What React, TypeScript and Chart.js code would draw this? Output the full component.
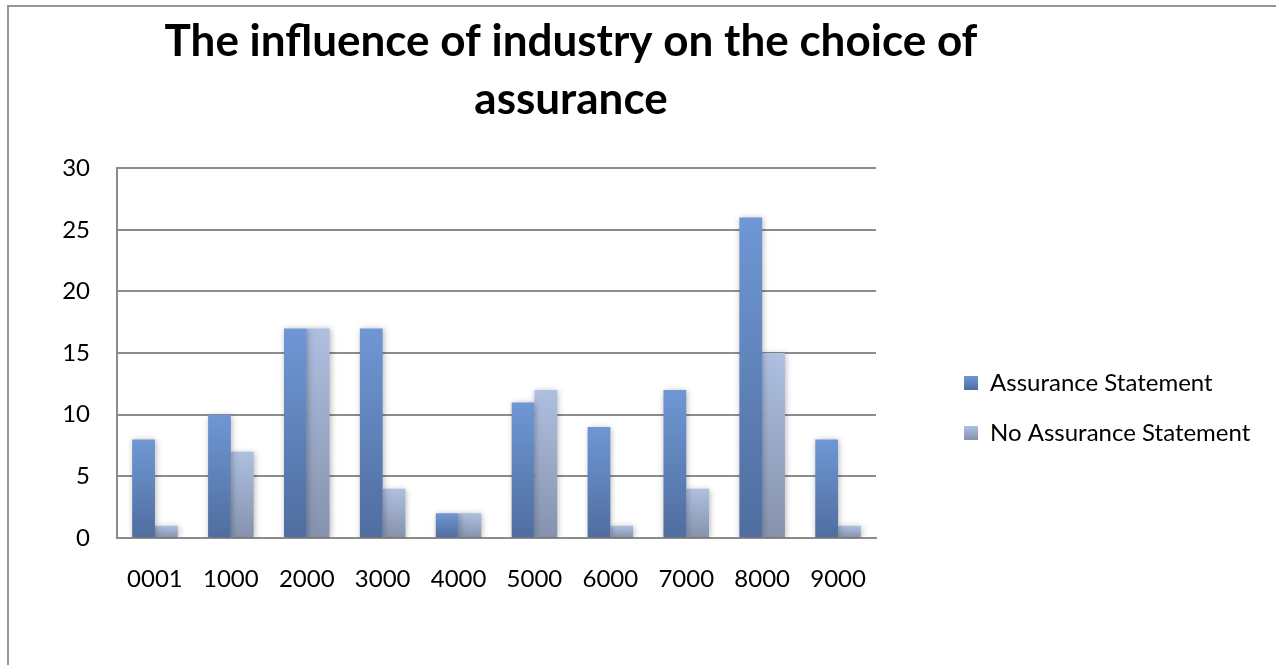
import { useEffect, useRef } from 'react';
import { Chart, registerables } from 'chart.js';

Chart.register(...registerables);

// Industry codes on the x axis and the company counts per group
const industryCodes = ['0001', '1000', '2000', '3000', '4000', '5000', '6000', '7000', '8000', '9000'];
const assuranceStatement = [8, 10, 17, 17, 2, 11, 9, 12, 26, 8];
const noAssuranceStatement = [1, 7, 17, 4, 2, 12, 1, 4, 15, 1];
const seriesNames = ['Assurance Statement', 'No Assurance Statement'];
const titleLines = ['The influence of industry on the choice of', 'assurance'];
const yAxisMax = 30;
const yAxisStep = 5;

const FONT = "Lato, 'Open Sans', sans-serif";
const GRID_GREY = '#8c8c8c';
const LEGEND_FONT_SIZE = 24;
const LEGEND_BOX = 14;

// Gradient stops (top, base) for each series
const seriesStops: [string, string][] = [
  ['#6f97d4', '#4f6d9f'],
  ['#aebfe0', '#8692ac'],
];
const seriesFlat = ['#6088c6', '#a2b3d6'];

// Canvas geometry (page coordinates)
const CANVAS_LEFT = -46;
const CANVAS_W = 1314;
const CANVAS_H = 816;

// Vertical gradient per bar: lighter at the top, darker at the base
function barFill(series: number) {
  return (ctx: any) => {
    const chart = ctx.chart;
    const flat = seriesFlat[series];
    if (ctx.type !== 'data' || !chart.chartArea || !ctx.parsed) return flat;
    const y = chart.scales.y;
    const top = y.getPixelForValue(ctx.parsed.y);
    const base = y.getPixelForValue(0);
    if (!isFinite(top) || !isFinite(base) || Math.abs(base - top) < 1) return flat;
    const g = chart.ctx.createLinearGradient(0, top, 0, base);
    g.addColorStop(0, seriesStops[series][0]);
    g.addColorStop(1, seriesStops[series][1]);
    return g;
  };
}

// Soft drop shadow behind the bars
const barShadow = {
  id: 'barShadow',
  beforeDatasetsDraw(chart: any) {
    const c = chart.ctx;
    c.save();
    c.shadowColor = 'rgba(0,0,0,0.28)';
    c.shadowBlur = 6;
    c.shadowOffsetX = 1;
    c.shadowOffsetY = 1;
  },
  afterDatasetsDraw(chart: any) {
    chart.ctx.restore();
  },
};

// The legend keeps a narrow layout slot; widen its drawing area so the
// longer label is not clipped at the slot edge.
const legendRoom = {
  id: 'legendRoom',
  afterLayout(chart: any) {
    const legend = chart.legend;
    if (legend) {
      legend.right += 140;
      legend.width += 140;
    }
  },
  // Give the legend swatches the same top-to-base shading as the bars
  beforeDraw(chart: any) {
    const legend = chart.legend;
    if (!legend || !legend.legendItems || !legend.legendHitBoxes) return;
    legend.legendItems.forEach((item: any, i: number) => {
      const hb = legend.legendHitBoxes[i];
      const stops = seriesStops[item.datasetIndex];
      if (!hb || !stops) return;
      const top = hb.top + Math.max((LEGEND_FONT_SIZE - LEGEND_BOX) / 2, 0);
      const g = chart.ctx.createLinearGradient(0, top, 0, top + LEGEND_BOX);
      g.addColorStop(0, stops[0]);
      g.addColorStop(1, stops[1]);
      item.fillStyle = g;
    });
  },
};

export default function App() {
  const canvasRef = useRef<HTMLCanvasElement | null>(null);

  useEffect(() => {
    const canvas = canvasRef.current;
    if (!canvas) return;
    const chart = new Chart(canvas, {
      type: 'bar',
      data: {
        labels: industryCodes,
        datasets: [
          {
            label: seriesNames[0],
            data: assuranceStatement,
            backgroundColor: barFill(0),
            borderWidth: 0,
            barPercentage: 1,
            categoryPercentage: 0.6,
          },
          {
            label: seriesNames[1],
            data: noAssuranceStatement,
            backgroundColor: barFill(1),
            borderWidth: 0,
            barPercentage: 1,
            categoryPercentage: 0.6,
          },
        ],
      },
      options: {
        responsive: false,
        animation: false,
        devicePixelRatio: 1,
        layout: { padding: { left: 0, top: 0, bottom: 0, right: 80 } },
        scales: {
          x: {
            z: 1,
            grid: { display: false, drawTicks: false },
            border: { display: true, color: GRID_GREY, width: 2 },
            ticks: { color: '#000', font: { family: FONT, size: 24 }, padding: 27, maxRotation: 0 },
            afterFit: (scale: any) => {
              scale.height = 278;
            },
          },
          y: {
            min: 0,
            max: yAxisMax,
            ticks: { stepSize: yAxisStep, color: '#000', font: { family: FONT, size: 24 }, padding: 27 },
            grid: { color: GRID_GREY, lineWidth: 2, drawTicks: false },
            border: { display: true, color: GRID_GREY, width: 2 },
            afterFit: (scale: any) => {
              scale.width = 163;
            },
          },
          gap: {
            type: 'linear',
            position: 'right',
            display: true,
            grid: { display: false, drawTicks: false },
            border: { display: false },
            ticks: { display: false },
            afterFit: (scale: any) => {
              scale.width = 62;
            },
          },
        },
        plugins: {
          tooltip: { enabled: false },
          title: {
            display: true,
            text: titleLines,
            color: '#000',
            font: { family: FONT, size: 44, weight: 'bold', lineHeight: 1.32 },
            padding: { top: 13, bottom: 39 },
          },
          legend: {
            position: 'right',
            maxWidth: 250,
            labels: {
              color: '#000',
              font: { family: FONT, size: LEGEND_FONT_SIZE },
              boxWidth: LEGEND_BOX,
              boxHeight: LEGEND_BOX,
              padding: 26,
            },
          },
        },
      },
      plugins: [barShadow, legendRoom],
    } as any);
    return () => chart.destroy();
  }, []);

  return (
    <>
      <div
        style={{
          position: 'fixed',
          left: 7,
          top: 5,
          width: 2000,
          height: 2000,
          borderTop: '2px solid #959595',
          borderLeft: '2px solid #959595',
          boxSizing: 'border-box',
        }}
      />
      <canvas
        ref={canvasRef}
        width={CANVAS_W}
        height={CANVAS_H}
        style={{ position: 'fixed', left: CANVAS_LEFT, top: 0, width: CANVAS_W, height: CANVAS_H }}
      />
    </>
  );
}
